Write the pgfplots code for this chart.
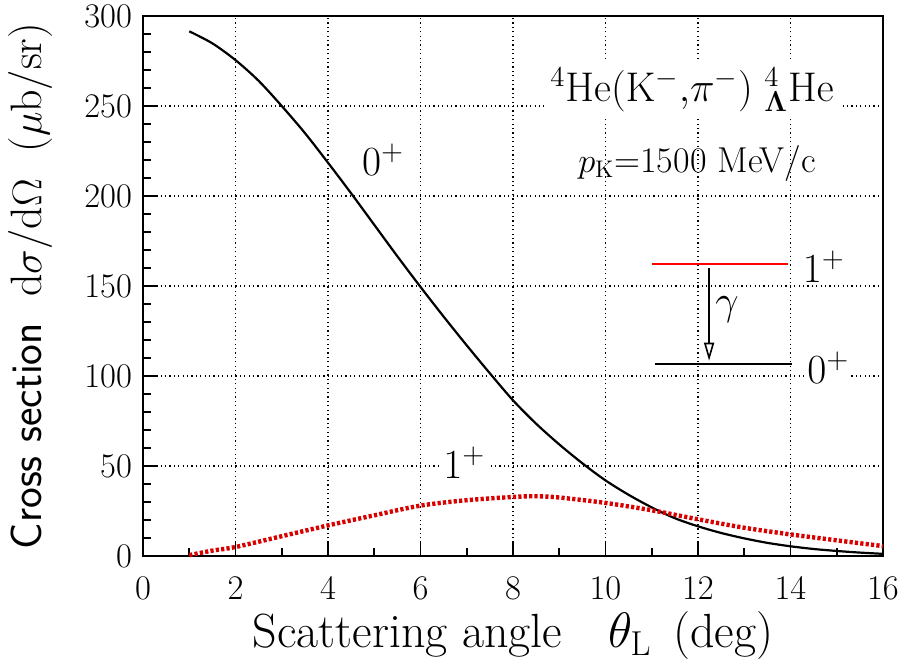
\documentclass[border=0pt]{standalone}
\usepackage{pgfplots}
\pgfplotsset{compat=1.18}
\usetikzlibrary{arrows.meta}
\begin{document}
\begin{tikzpicture}
\begin{axis}[
  scale only axis, width=370pt, height=270pt,
  xmin=0, xmax=16, ymin=0, ymax=300,
  xtick={0,2,...,16}, ytick={0,50,...,300},
  minor x tick num=1, minor y tick num=4,
  tick align=inside, tick pos=left,
  major tick length=7.5pt, minor tick length=4pt,
  grid=major,
  major grid style={black, line width=0.6pt, dash pattern=on 0.6pt off 1.6pt},
  axis line style={black, line width=0.9pt},
  tick style={black, line width=0.8pt},
  ticklabel style={font=\fontsize{16}{18}\selectfont},
  xticklabel style={yshift=-7pt},
  yticklabel style={xshift=-2pt},
  xlabel={Scattering angle\hspace{0.95em}$\theta_{\mathrm{L}}$\hspace{0.45em}(deg)},
  ylabel={\textsf{Cross section}~~d$\sigma$/d$\Omega$~~($\mu$b/sr)},
  xlabel style={font=\fontsize{24}{27}\selectfont, at={(axis description cs:0.5,-0.148)}, anchor=center},
  ylabel style={font=\fontsize{22}{25}\selectfont, at={(axis description cs:-0.152,0.5)}, anchor=center},
  clip=false,
]
\addplot[black, line width=1.1pt, smooth] coordinates {
(1.0,291.5) (1.5,284.8) (2.0,275.5) (2.5,264) (3.0,250) (3.5,235) (4.0,218.5)
(4.5,201.5) (5.0,184) (5.5,166.5) (6.0,149.5) (6.5,133) (7.0,117) (7.5,101.5)
(8.0,86.5) (8.5,73.5) (9.0,62) (9.5,51.5) (10.0,42) (10.5,34) (11.0,27)
(11.5,21) (12.0,16.5) (12.5,12.8) (13.0,9.8) (13.5,7.3) (14.0,5.4) (14.5,3.9)
(15.0,2.8) (15.5,1.9) (16.0,1.2)
};
\addplot[red!85!black, line width=2.2pt, dash pattern=on 1.6pt off 1.1pt, smooth] coordinates {
(1,0.5) (1.5,3) (2,5) (3,11) (4,17) (5,22.6) (6,28) (7,31) (8,32.8) (8.5,33.2)
(9,32.5) (10,29.5) (11,25.4) (12,20.4) (13,15.7) (14,12) (15,8.7) (16,5.5)
};
% level scheme
\addplot[red, line width=1.1pt] coordinates {(11.0,162.2) (13.95,162.2)};
\addplot[black, line width=1.1pt] coordinates {(11.07,106.7) (14.03,106.7)};
\addplot[black, line width=0.8pt, -{Triangle[open, length=9pt, width=5pt]}] coordinates {(12.24,160) (12.24,108.5)};
\node[font=\fontsize{20}{22}\selectfont] at (axis cs:12.63,136.7) {$\gamma$};
\node[fill=white, inner sep=1pt, font=\fontsize{20}{22}\selectfont] at (axis cs:14.72,160.5) {$\mathrm{1}^{+}$};
\node[fill=white, inner sep=1pt, font=\fontsize{20}{22}\selectfont] at (axis cs:14.82,104.5) {$\mathrm{0}^{+}$};
% curve labels
\node[font=\fontsize{20}{22}\selectfont] at (axis cs:5.19,220) {$\mathrm{0}^{+}$};
\node[fill=white, inner sep=2pt, font=\fontsize{20}{22}\selectfont] at (axis cs:6.95,52) {$\mathrm{1}^{+}$};
% title
\node[fill=white, inner sep=3pt, font=\fontsize{22}{24}\selectfont] at (axis cs:11.87,259) {${}^{4}\mathrm{He}(\mathrm{K}^{-}{,}\pi^{-})\;{}^{4}_{\mathbf{\Lambda}}\mathrm{He}$};
\node[font=\fontsize{18}{20}\selectfont] at (axis cs:11.98,218) {$p_{\mathrm{K}}$=1500 MeV/c};
\end{axis}
\pgfresetboundingbox
\useasboundingbox ([xshift=-71.5pt,yshift=-54.5pt]current axis.south west) rectangle ([xshift=10.5pt,yshift=8pt]current axis.north east);
\end{tikzpicture}
\end{document}
